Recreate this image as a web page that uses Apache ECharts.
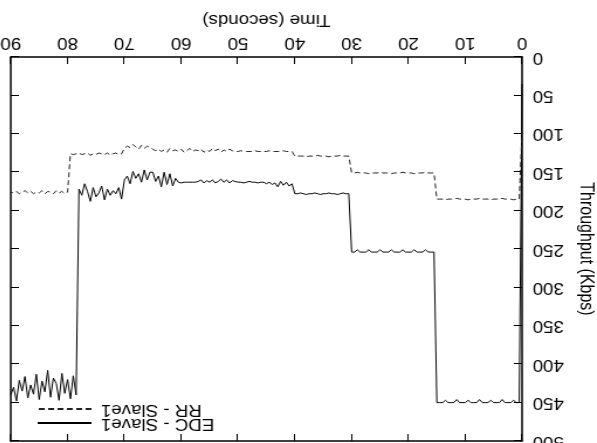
<!doctype html>
<html>
<head>
<meta charset="UTF-8">
<title>Throughput</title>
<script src="https://cdn.jsdelivr.net/npm/echarts@6/dist/echarts.min.js"></script>
<style>
    html, body { margin: 0; padding: 0; background: #fff; }
    #wrap { width: 597px; height: 443px; overflow: hidden; position: relative; }
    /* the reference is upside down and slightly stretched sideways */
    #main {
        width: 510px; height: 443px; position: absolute; left: 0; top: 0;
        transform-origin: 0 0;
        transform: translate(597px, 443px) rotate(180deg) scaleX(1.17);
    }
</style>
</head>
<body>
<div id="wrap"><div id="main"></div></div>
<script>
    // samples every 0.5 s, from 0 to 90 s
    var timeStep = 0.5;

    var edc = [35,
        450,450,447,450,450,450,446,450,450,450,
        447,450,450,450,446,450,450,450,447,450,
        450,450,446,450,450,450,447,450,450,450,
        254,254,254,251,254,254,254,251,254,254,
        254,251,254,254,254,251,254,254,254,251,
        254,254,254,251,254,254,254,251,254,254,
        178,178,177,178,179,178,178,177,178,178,
        179,178,177,178,178,179,178,177,178,178,
        165,168,163,167,162,169,164,166,163,165,
        163,163,164,163,163,162,163,164,163,163,162,
        161,164,160,163,159,162,164,160,163,161,164,160,162,163,
        163,163,163,163,164,163,
        158,168,152,166,150,169,155,162,150,
        150,160,147,163,152,158,149,165,155,160,
        185,170,178,174,180,172,186,168,177,182,170,188,175,165,180,172,
        440,415,445,420,438,412,447,425,418,443,408,436,
        422,446,413,439,427,444,416,435,421,448,430,440];

    var rr = [95,
        185,185,186,185,185,185,184,185,185,185,
        186,185,185,185,184,185,185,185,186,185,
        185,185,184,185,185,185,186,185,185,185,
        151,151,151,150,151,151,151,152,151,151,
        151,150,151,151,151,152,151,151,151,150,
        151,151,151,152,151,151,151,150,151,151,
        129,129,129,128,129,129,129,130,129,129,
        129,128,129,129,129,130,129,129,129,129,
        123,123,123,122,123,123,123,123,122,123,123,
        123,123,122,123,123,123,123,122,123,123,
        122,120,123,121,124,120,122,119,123,121,
        124,120,122,121,123,119,122,124,120,123,
        121,122,119,124,121,123,120,122,120,
        118,116,119,115,120,117,114,118,116,119,
        126,127,125,126,128,125,127,126,125,127,
        126,128,125,126,127,125,126,127,126,
        176,178,175,177,174,178,176,175,178,174,
        177,176,178,175,177,174,176,178,175,177,176];

    var seriesNames = ['EDC - Slave1', 'RR - Slave1'];

    var toPairs = function (values) {
        return values.map(function (v, i) { return [i * timeStep, v]; });
    };

    var font = '"Liberation Sans", Arial, sans-serif';
    var black = '#000';

    var xBase = function (pos) {
        return {
            type: 'value', position: pos, min: 0, max: 90, interval: 10,
            axisLine: { show: true, onZero: false, lineStyle: { color: black, width: 1.5 } },
            axisTick: { show: true, inside: true, length: 7, lineStyle: { color: black } },
            splitLine: { show: false }
        };
    };
    var yBase = function (pos) {
        return {
            type: 'value', position: pos, min: 0, max: 500, interval: 50,
            axisLine: { show: true, onZero: false, lineStyle: { color: black, width: 1.5 } },
            axisTick: { show: true, inside: true, length: 7, lineStyle: { color: black } },
            splitLine: { show: false }
        };
    };

    var xBottom = xBase('bottom');
    xBottom.axisLabel = { color: black, fontSize: 16, fontFamily: font, margin: 7 };
    xBottom.name = 'Time (seconds)';
    xBottom.nameLocation = 'middle';
    xBottom.nameGap = 30;
    xBottom.nameTextStyle = { color: black, fontSize: 16, fontFamily: font };
    var xTop = xBase('top');
    xTop.axisLabel = { show: false };

    var yLeft = yBase('left');
    yLeft.axisLabel = { color: black, fontSize: 16, fontFamily: font, margin: 9 };
    yLeft.name = 'Throughput (Kbps)';
    yLeft.nameLocation = 'middle';
    yLeft.nameGap = 42;
    yLeft.nameTextStyle = { color: black, fontSize: 16, fontFamily: font };
    var yRight = yBase('right');
    yRight.axisLabel = { show: false };

    var legendItem = function (name, top) {
        return {
            data: [name], right: 26, top: top, align: 'right', orient: 'vertical',
            itemWidth: 46, itemHeight: 12, selectedMode: false,
            itemStyle: { opacity: 0 },
            textStyle: { color: black, fontSize: 16, fontFamily: font, padding: [0, 3, 0, 0] }
        };
    };

    var myChart = echarts.init(document.getElementById('main'));
    myChart.setOption({
        animation: false,
        grid: { left: 64, right: 9, top: 2, bottom: 57, outerBoundsMode: 'none', containLabel: false },
        xAxis: [xBottom, xTop],
        yAxis: [yLeft, yRight],
        legend: [legendItem(seriesNames[0], 7), legendItem(seriesNames[1], 21)],
        series: [
            {
                name: seriesNames[0], type: 'line', data: toPairs(edc),
                symbol: 'none', color: black,
                lineStyle: { color: black, width: 1 }
            },
            {
                name: seriesNames[1], type: 'line', data: toPairs(rr),
                symbol: 'none', color: '#222',
                lineStyle: { color: '#222', width: 1, type: [5, 3] }
            }
        ]
    });
</script>
</body>
</html>
